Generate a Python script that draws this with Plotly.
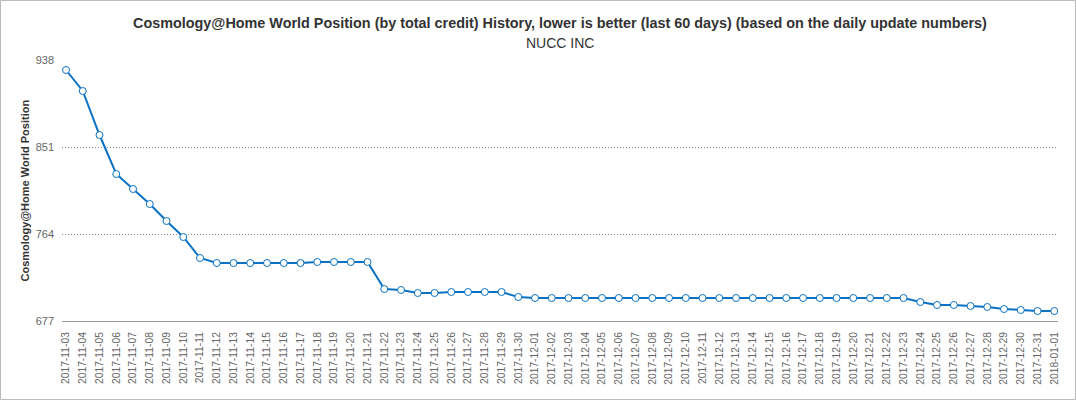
import pandas as pd
import plotly.graph_objects as go

dates = pd.date_range("2017-11-03", "2018-01-01", freq="D").strftime("%Y-%m-%d").tolist()
positions = [
    928, 907, 863, 824, 809, 794, 777, 761, 740, 735,
    735, 735, 735, 735, 735, 736, 736, 736, 736, 709,
    708, 705, 705, 706, 706, 706, 706, 701, 700, 700,
    700, 700, 700, 700, 700, 700, 700, 700, 700, 700,
    700, 700, 700, 700, 700, 700, 700, 700, 700, 700,
    700, 696, 693, 693, 692, 691, 689, 688, 687, 687,
]
y_ticks = [677, 764, 851, 938]
title = "Cosmology@Home World Position (by total credit) History, lower is better (last 60 days) (based on the daily update numbers)"
subtitle = "NUCC INC"
y_title = "Cosmology@Home World Position"

W, H = 1076, 400
L, R, T, B = 62, 18, 60, 79
pw, ph = W - L - R, H - T - B

fig = go.Figure()
fig.add_trace(go.Scatter(
    x=list(range(len(dates))), y=positions, mode="lines+markers",
    line=dict(color="#0b72c3", width=2),
    marker=dict(size=7, color="white", line=dict(color="#0b72c3", width=1)),
    hoverinfo="y",
))

fig.update_layout(
    width=W, height=H,
    margin=dict(l=L, r=R, t=T, b=B),
    paper_bgcolor="white", plot_bgcolor="white",
    font=dict(family="Liberation Sans, Arial, sans-serif", color="#666666", size=11),
    showlegend=False,
    xaxis=dict(
        range=[-0.24, 59.22], tickmode="array",
        tickvals=list(range(len(dates))), ticktext=dates,
        tickangle=-90, showgrid=False, zeroline=False,
        showline=True, linecolor="#999999", linewidth=1,
        ticks="", tickfont=dict(size=10.3, color="#666666"),
        ticklabelstandoff=6,
    ),
    yaxis=dict(
        range=[677, 938], tickmode="array", tickvals=y_ticks,
        showgrid=True, gridcolor="#888888", griddash="1px,2px", gridwidth=1,
        zeroline=False, showline=False, ticks="",
        tickfont=dict(size=11, color="#666666"),
        ticklabelstandoff=7,
    ),
    annotations=[
        dict(text="<b>" + title + "</b>", xref="paper", yref="paper",
             x=0.5, y=1 + (T - 23) / ph, xanchor="center", yanchor="middle",
             showarrow=False, font=dict(size=14.4, color="#333333")),
        dict(text=subtitle, xref="paper", yref="paper",
             x=0.5, y=1 + (T - 43) / ph, xanchor="center", yanchor="middle",
             showarrow=False, font=dict(size=14, color="#333333")),
        dict(text="<b>" + y_title + "</b>", xref="paper", yref="paper",
             x=(24 - L) / pw, y=0.5, xanchor="center", yanchor="middle",
             textangle=-90, showarrow=False, font=dict(size=11, color="#333333")),
    ],
    shapes=[
        dict(type="rect", xref="paper", yref="paper",
             x0=(0.5 - L) / pw, x1=(W - 0.5 - L) / pw,
             y0=-(B - 0.5) / ph, y1=1 + (T - 0.5) / ph,
             line=dict(color="#bbbbbb", width=1), layer="below"),
    ],
)

fig.write_html("out.html", config={"displayModeBar": False},
               post_script="document.body.style.margin='0';")
